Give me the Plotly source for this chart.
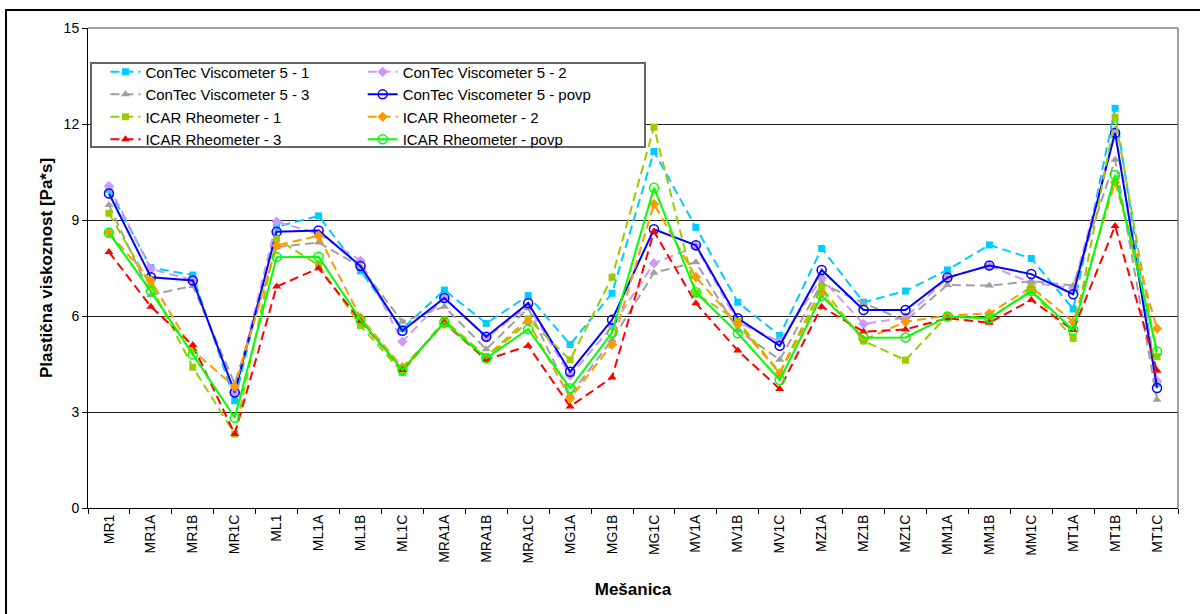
import plotly.graph_objects as go

categories = ["MR1", "MR1A", "MR1B", "MR1C", "ML1", "ML1A", "ML1B", "ML1C",
              "MRA1A", "MRA1B", "MRA1C", "MG1A", "MG1B", "MG1C", "MV1A", "MV1B",
              "MV1C", "MZ1A", "MZ1B", "MZ1C", "MM1A", "MM1B", "MM1C", "MT1A",
              "MT1B", "MT1C"]

contec_1 = [9.96, 7.51, 7.28, 3.35, 8.79, 9.13, 7.41, 5.60, 6.81, 5.77, 6.64, 5.11, 6.71,
            11.14, 8.77, 6.43, 5.39, 8.11, 6.43, 6.78, 7.44, 8.22, 7.80, 6.22, 12.49, 3.90]
contec_2 = [10.06, 7.47, 7.12, 3.60, 8.95, 8.57, 7.73, 5.20, 6.57, 5.32, 6.32, 4.14, 5.67,
            7.65, 8.17, 5.80, 5.20, 7.18, 5.75, 5.95, 7.20, 7.57, 7.04, 6.87, 11.78, 3.97]
contec_3 = [9.47, 6.66, 6.94, 3.88, 8.15, 8.30, 7.54, 5.82, 6.29, 4.96, 6.24, 3.53, 5.25,
            7.35, 7.68, 5.56, 4.63, 7.02, 6.40, 5.85, 6.97, 6.95, 7.09, 6.95, 10.88, 3.38]
contec_povp = [9.83, 7.21, 7.11, 3.61, 8.63, 8.67, 7.56, 5.54, 6.56, 5.35, 6.40, 4.26, 5.88,
               8.71, 8.21, 5.93, 5.07, 7.44, 6.19, 6.19, 7.20, 7.58, 7.31, 6.68, 11.72, 3.75]
icar_1 = [9.21, 6.94, 4.40, 2.31, 8.41, 7.59, 5.70, 4.23, 5.88, 4.73, 5.91, 4.63, 7.21,
          11.90, 6.71, 5.84, 4.23, 6.89, 5.22, 4.62, 6.01, 5.93, 6.79, 5.30, 12.21, 4.73]
icar_2 = [8.60, 7.10, 4.92, 3.79, 8.20, 8.51, 5.95, 4.40, 5.75, 4.68, 5.82, 3.43, 5.11,
          9.50, 7.21, 5.74, 4.21, 6.71, 5.25, 5.82, 6.01, 6.08, 6.90, 5.82, 10.18, 5.61]
icar_3 = [8.00, 6.29, 5.09, 2.31, 6.92, 7.49, 5.85, 4.31, 5.80, 4.63, 5.07, 3.17, 4.08,
          8.64, 6.40, 4.92, 3.72, 6.29, 5.51, 5.58, 5.93, 5.79, 6.50, 5.56, 8.81, 4.29]
icar_povp = [8.60, 6.77, 4.80, 2.82, 7.84, 7.85, 5.88, 4.31, 5.81, 4.68, 5.59, 3.74, 5.48,
             10.01, 6.74, 5.46, 4.00, 6.63, 5.32, 5.33, 5.98, 5.93, 6.78, 5.56, 10.41, 4.89]

y_ticks = [0, 3, 6, 9, 12, 15]

FONT = "Liberation Sans, Arial, sans-serif"
DASH = "9px,5px"

series = [
    ("ConTec Viscometer 5 - 1", contec_1, "#00CCFF", DASH, "square", 7, "legend"),
    ("ConTec Viscometer 5 - 2", contec_2, "#CC99FF", DASH, "diamond", 8, "legend2"),
    ("ConTec Viscometer 5 - 3", contec_3, "#A0A0A0", DASH, "triangle-up", 8, "legend"),
    ("ConTec Viscometer 5 - povp", contec_povp, "#0000FF", "solid", "circle-open", 9, "legend2"),
    ("ICAR Rheometer - 1", icar_1, "#99CC00", DASH, "square", 7, "legend"),
    ("ICAR Rheometer - 2", icar_2, "#FF9900", DASH, "diamond", 8, "legend2"),
    ("ICAR Rheometer - 3", icar_3, "#FF0000", DASH, "triangle-up", 8, "legend"),
    ("ICAR Rheometer - povp", icar_povp, "#00FF00", "solid", "circle-open", 9, "legend2"),
]

fig = go.Figure()
for name, vals, color, dash, sym, size, leg in series:
    fig.add_trace(go.Scatter(
        x=categories, y=vals, name=name, mode="lines+markers",
        line=dict(color=color, width=2, dash=dash),
        marker=dict(symbol=sym, size=size, color=color,
                    line=dict(color=color, width=1.5 if "open" in sym else 0)),
        legend=leg,
    ))

leg_common = dict(
    orientation="v", xanchor="left", yanchor="top",
    bgcolor="rgba(0,0,0,0)", borderwidth=0,
    font=dict(family=FONT, size=15, color="black"),
)

fig.update_layout(
    width=1200, height=614,
    margin=dict(l=88, r=22, t=28, b=106, autoexpand=False),
    paper_bgcolor="white", plot_bgcolor="white",
    font=dict(family=FONT, size=14, color="black"),
    legend=dict(x=0.016, y=0.9425, **leg_common),
    legend2=dict(x=0.252, y=0.9425, **leg_common),
    xaxis=dict(
        type="category", tickangle=-90, tickson="boundaries",
        ticks="outside", ticklen=5, tickcolor="black",
        showline=True, linecolor="black", linewidth=1,
        showgrid=False, tickfont=dict(family=FONT, size=14),
        title=dict(text="<b>Mešanica</b>", font=dict(family=FONT, size=17), standoff=20),
        range=[-0.5, len(categories) - 0.5], automargin=False,
    ),
    yaxis=dict(
        range=[0, 15], tickvals=y_ticks,
        ticks="outside", ticklen=5, tickcolor="black",
        showline=True, linecolor="black", linewidth=1,
        showgrid=True, gridcolor="#222222", gridwidth=1,
        zeroline=False, tickfont=dict(family=FONT, size=14),
        title=dict(text="<b>Plastična viskoznost [Pa*s]</b>", font=dict(family=FONT, size=17), standoff=6),
        automargin=False,
    ),
    shapes=[
        dict(type="line", xref="paper", yref="paper", x0=0, x1=1, y0=1, y1=1,
             line=dict(color="#808080", width=1.5)),
        dict(type="line", xref="paper", yref="paper", x0=1, x1=1, y0=0, y1=1,
             line=dict(color="#808080", width=1.5)),
        dict(type="rect", xref="paper", yref="paper", x0=0.00275, x1=0.511, y0=0.752, y1=0.927,
             line=dict(color="#666666", width=2), fillcolor="white", layer="above"),
        dict(type="rect", xref="paper", yref="paper", x0=-0.0752, x1=1.03, y0=-0.25, y1=1.0375,
             line=dict(color="black", width=2), fillcolor="rgba(0,0,0,0)", layer="above"),
    ],
)

fig.write_html("out.html", config={"displayModeBar": False},
               post_script="document.body.style.margin='0px';")
